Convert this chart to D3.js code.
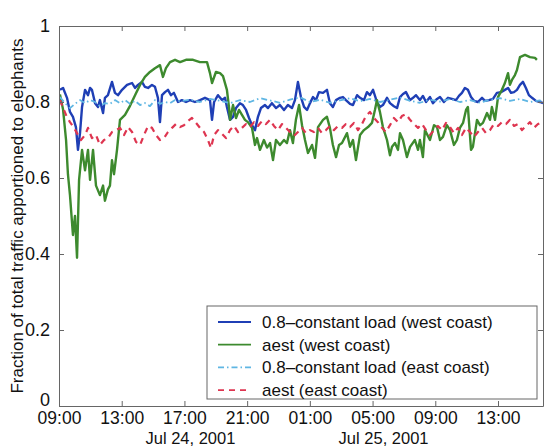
<!DOCTYPE html>
<html>
<head>
<meta charset="utf-8">
<script src="https://cdn.jsdelivr.net/npm/d3@7"></script>
<style>
  body { margin: 0; background: #fff; }
  text { font-family: "Liberation Sans", Arial, sans-serif; fill: #111; }
</style>
</head>
<body>
<svg id="chart" width="545" height="448"></svg>
<script>
(function(){

	// hours after Jul 24 2001 09:00, fraction
	var westConst = [[0.06,0.832],[0.26,0.837],[0.51,0.811],[0.70,0.774],[0.89,0.761],[1.08,0.734],[1.21,0.674],[1.34,0.718],[1.47,0.787],[1.66,0.832],[1.85,0.818],[1.98,0.837],[2.10,0.832],[2.30,0.797],[2.49,0.787],[2.61,0.805],[2.81,0.771],[2.93,0.811],[3.12,0.818],[3.38,0.853],[3.57,0.824],[3.76,0.818],[4.02,0.832],[4.34,0.845],[4.66,0.850],[4.85,0.837],[5.04,0.845],[5.29,0.853],[5.48,0.840],[5.68,0.837],[5.93,0.845],[6.12,0.840],[6.31,0.811],[6.44,0.747],[6.57,0.818],[6.76,0.826],[6.95,0.832],[7.14,0.818],[7.33,0.824],[7.59,0.800],[7.84,0.805],[8.10,0.800],[8.35,0.805],[8.67,0.800],[8.99,0.805],[9.31,0.811],[9.63,0.805],[9.76,0.753],[9.89,0.800],[10.14,0.818],[10.40,0.805],[10.59,0.811],[10.71,0.787],[10.91,0.753],[11.10,0.761],[11.29,0.784],[11.54,0.797],[11.73,0.792],[11.93,0.779],[12.12,0.758],[12.31,0.739],[12.50,0.726],[12.69,0.761],[12.88,0.784],[13.14,0.792],[13.33,0.784],[13.58,0.797],[13.84,0.784],[14.09,0.792],[14.35,0.779],[14.60,0.792],[14.86,0.784],[15.05,0.805],[15.24,0.853],[15.43,0.813],[15.63,0.787],[15.82,0.779],[16.01,0.797],[16.20,0.813],[16.39,0.805],[16.58,0.826],[16.84,0.824],[17.09,0.832],[17.28,0.797],[17.47,0.787],[17.67,0.805],[17.92,0.811],[18.11,0.813],[18.30,0.805],[18.56,0.795],[18.75,0.792],[19.01,0.818],[19.20,0.811],[19.45,0.805],[19.64,0.826],[19.83,0.818],[20.03,0.832],[20.28,0.800],[20.47,0.787],[20.66,0.792],[20.92,0.811],[21.11,0.797],[21.36,0.789],[21.56,0.784],[21.75,0.813],[21.94,0.821],[22.13,0.826],[22.39,0.805],[22.58,0.811],[22.77,0.818],[23.02,0.805],[23.21,0.816],[23.41,0.800],[23.66,0.813],[23.85,0.797],[24.11,0.808],[24.30,0.813],[24.55,0.800],[24.81,0.811],[25.06,0.808],[25.32,0.805],[25.51,0.816],[25.70,0.824],[25.89,0.837],[26.08,0.832],[26.28,0.813],[26.47,0.803],[26.72,0.800],[26.98,0.811],[27.17,0.803],[27.42,0.805],[27.68,0.808],[27.93,0.824],[28.19,0.826],[28.44,0.832],[28.64,0.837],[28.83,0.824],[29.02,0.826],[29.21,0.832],[29.40,0.845],[29.59,0.853],[29.78,0.837],[29.97,0.818],[30.17,0.811],[30.42,0.803],[30.68,0.800],[30.87,0.797]];

	var westAest = [[0.06,0.820],[0.26,0.780],[0.45,0.700],[0.57,0.610],[0.70,0.555],[0.89,0.450],[1.02,0.500],[1.15,0.390],[1.28,0.595],[1.47,0.674],[1.66,0.620],[1.85,0.674],[1.98,0.595],[2.17,0.674],[2.36,0.580],[2.61,0.555],[2.81,0.580],[2.93,0.540],[3.12,0.570],[3.25,0.580],[3.38,0.647],[3.51,0.610],[3.70,0.674],[3.89,0.753],[4.21,0.766],[4.53,0.790],[4.85,0.818],[5.17,0.845],[5.48,0.866],[5.80,0.879],[6.12,0.889],[6.44,0.897],[6.63,0.866],[6.82,0.889],[7.08,0.905],[7.40,0.911],[7.72,0.905],[8.10,0.911],[8.55,0.911],[8.99,0.905],[9.44,0.905],[9.63,0.876],[9.76,0.850],[10.01,0.879],[10.27,0.876],[10.46,0.868],[10.71,0.832],[10.84,0.787],[10.91,0.753],[11.10,0.792],[11.29,0.758],[11.48,0.779],[11.67,0.766],[11.86,0.753],[12.05,0.747],[12.31,0.732],[12.50,0.687],[12.63,0.705],[12.82,0.674],[13.07,0.700],[13.27,0.680],[13.46,0.692],[13.65,0.647],[13.84,0.700],[14.09,0.687],[14.35,0.700],[14.54,0.692],[14.73,0.726],[14.92,0.692],[15.11,0.753],[15.31,0.792],[15.50,0.739],[15.69,0.700],[15.88,0.666],[16.14,0.687],[16.33,0.653],[16.52,0.734],[16.84,0.753],[17.09,0.761],[17.28,0.732],[17.47,0.687],[17.67,0.655],[17.86,0.687],[18.05,0.692],[18.37,0.718],[18.56,0.682],[18.75,0.700],[18.94,0.647],[19.20,0.713],[19.45,0.726],[19.71,0.734],[19.96,0.745],[20.15,0.779],[20.28,0.805],[20.47,0.774],[20.66,0.734],[20.92,0.700],[21.11,0.660],[21.24,0.682],[21.43,0.692],[21.62,0.674],[21.75,0.718],[21.94,0.700],[22.19,0.655],[22.39,0.682],[22.70,0.700],[22.90,0.674],[23.02,0.700],[23.21,0.655],[23.34,0.726],[23.66,0.700],[23.92,0.739],[24.11,0.734],[24.30,0.700],[24.49,0.708],[24.74,0.739],[24.94,0.726],[25.19,0.687],[25.38,0.700],[25.57,0.732],[25.77,0.745],[25.96,0.779],[26.08,0.787],[26.28,0.674],[26.40,0.682],[26.66,0.753],[26.85,0.739],[27.04,0.745],[27.30,0.771],[27.49,0.753],[27.61,0.787],[27.81,0.753],[28.00,0.813],[28.25,0.832],[28.44,0.850],[28.64,0.876],[28.76,0.845],[28.89,0.858],[29.08,0.871],[29.21,0.884],[29.40,0.918],[29.72,0.924],[30.04,0.918],[30.36,0.916],[30.48,0.911]];

	var eastConst = [[0.06,0.813],[0.38,0.797],[0.70,0.784],[1.02,0.795],[1.34,0.805],[1.66,0.797],[1.98,0.805],[2.30,0.800],[2.61,0.789],[2.93,0.797],[3.25,0.795],[3.57,0.805],[3.89,0.797],[4.21,0.805],[4.53,0.795],[4.85,0.803],[5.17,0.792],[5.48,0.797],[5.80,0.789],[6.12,0.805],[6.44,0.795],[6.76,0.800],[7.08,0.797],[7.40,0.805],[7.72,0.802],[8.35,0.806],[8.99,0.800],[9.63,0.808],[10.27,0.803],[10.91,0.797],[11.54,0.805],[12.18,0.800],[12.82,0.810],[13.46,0.804],[14.09,0.798],[14.73,0.806],[15.37,0.812],[16.01,0.800],[16.65,0.806],[17.28,0.798],[17.92,0.804],[18.56,0.810],[19.20,0.802],[19.83,0.808],[20.47,0.800],[21.11,0.806],[21.75,0.812],[22.39,0.803],[23.02,0.798],[23.66,0.806],[24.30,0.801],[24.94,0.808],[25.57,0.800],[26.21,0.805],[26.85,0.798],[27.49,0.806],[28.12,0.810],[28.76,0.803],[29.40,0.808],[30.04,0.800],[30.68,0.804],[30.87,0.800]];

	var eastAest = [[0.06,0.805],[0.26,0.784],[0.45,0.766],[0.70,0.747],[0.96,0.732],[1.21,0.713],[1.40,0.700],[1.66,0.713],[1.85,0.732],[2.10,0.705],[2.36,0.713],[2.61,0.687],[2.87,0.700],[3.12,0.705],[3.38,0.721],[3.64,0.726],[3.89,0.732],[4.15,0.713],[4.40,0.734],[4.66,0.721],[4.91,0.695],[5.17,0.687],[5.42,0.713],[5.68,0.737],[5.93,0.732],[6.19,0.713],[6.44,0.700],[6.70,0.705],[6.95,0.721],[7.21,0.732],[7.46,0.742],[7.72,0.734],[7.97,0.739],[8.23,0.750],[8.48,0.758],[8.74,0.745],[8.99,0.732],[9.25,0.721],[9.50,0.700],[9.69,0.679],[9.89,0.713],[10.14,0.726],[10.40,0.716],[10.65,0.705],[10.91,0.726],[11.16,0.737],[11.42,0.721],[11.67,0.732],[11.93,0.742],[12.18,0.734],[12.44,0.747],[12.69,0.737],[12.95,0.750],[13.20,0.742],[13.46,0.753],[13.71,0.737],[13.97,0.726],[14.22,0.742],[14.48,0.732],[14.73,0.721],[14.99,0.711],[15.24,0.721],[15.50,0.732],[15.75,0.718],[16.01,0.726],[16.26,0.721],[16.52,0.732],[16.77,0.718],[17.03,0.726],[17.28,0.737],[17.54,0.726],[17.79,0.737],[18.05,0.732],[18.30,0.742],[18.56,0.734],[18.81,0.745],[19.07,0.726],[19.32,0.742],[19.58,0.763],[19.83,0.774],[20.09,0.758],[20.34,0.747],[20.60,0.732],[20.85,0.721],[21.11,0.739],[21.36,0.758],[21.62,0.747],[21.87,0.763],[22.13,0.768],[22.39,0.753],[22.64,0.742],[22.90,0.732],[23.15,0.742],[23.41,0.726],[23.66,0.713],[23.92,0.726],[24.17,0.737],[24.43,0.726],[24.68,0.745],[24.94,0.734],[25.19,0.718],[25.45,0.732],[25.70,0.713],[25.96,0.732],[26.21,0.721],[26.47,0.708],[26.72,0.721],[26.98,0.732],[27.23,0.718],[27.49,0.726],[27.74,0.742],[28.00,0.737],[28.25,0.747],[28.51,0.742],[28.76,0.753],[29.02,0.737],[29.27,0.742],[29.53,0.726],[29.78,0.737],[30.04,0.747],[30.29,0.732],[30.55,0.742],[30.81,0.747]];

	var seriesNames = ["0.8\u2013constant load (west coast)", "aest (west coast)", "0.8\u2013constant load (east coast)", "aest (east coast)"];
	var yTicks = [0, 0.2, 0.4, 0.6, 0.8, 1];
	var dateLabels = ["Jul 24, 2001", "Jul 25, 2001"];

	//Style config
	var colors = ["#1f3fb5", "#3d8a2e", "#5fb6e3", "#de3550"];
	var dashes = [null, null, "6,3,1.5,3", "6,5"];
	var widths = [2.4, 2.4, 1.8, 2.2];

	var margin = {left: 59, top: 26, right: 2, bottom: 42};
	var width = 545 - margin.left - margin.right;
	var height = 448 - margin.top - margin.bottom;

	var start = new Date(2001, 6, 24, 9, 0);
	function toDate(h){ return new Date(start.getTime() + h * 3600000); }

	var x = d3.scaleTime()
		.domain([start, toDate(30.87)])
		.range([0, width]);
	var y = d3.scaleLinear().domain([0, 1]).range([height, 0]);

	var xTickVals = d3.range(0, 30, 4).map(toDate);

	var svg = d3.select("#chart");
	var g = svg.append("g").attr("transform", "translate(" + margin.left + "," + margin.top + ")");

	//data lines
	var line = d3.line()
		.x(function(d){ return x(toDate(d[0])); })
		.y(function(d){ return y(d[1]); });

	var allSeries = [westConst, westAest, eastConst, eastAest];
	g.append("defs").append("clipPath").attr("id", "clip")
		.append("rect").attr("width", width).attr("height", height);
	g.selectAll(".series")
		.data(allSeries)
		.enter()
		.append("path")
		.attr("class", "series")
		.attr("clip-path", "url(#clip)")
		.attr("d", line)
		.attr("fill", "none")
		.attr("stroke", function(d, i){ return colors[i]; })
		.attr("stroke-width", function(d, i){ return widths[i]; })
		.attr("stroke-dasharray", function(d, i){ return dashes[i]; })
		.attr("stroke-linejoin", "round");

	//axes, MATLAB style box with inward ticks
	var fmtY = function(d){ return (d === 0 || d === 1) ? d : d.toFixed(1); };
	var xAxis = d3.axisBottom(x).tickValues(xTickVals).tickFormat(d3.timeFormat("%H:%M")).tickSizeInner(-5).tickSizeOuter(0).tickPadding(6);
	var xTop = d3.axisTop(x).tickValues(xTickVals).tickFormat("").tickSizeInner(-5).tickSizeOuter(0);
	var yAxis = d3.axisLeft(y).tickValues(yTicks).tickFormat(fmtY).tickSizeInner(-5).tickSizeOuter(0).tickPadding(9);
	var yRight = d3.axisRight(y).tickValues(yTicks).tickFormat("").tickSizeInner(-5).tickSizeOuter(0);

	var gx = g.append("g").attr("transform", "translate(0," + height + ")").call(xAxis);
	g.append("g").call(xTop);
	var gy = g.append("g").call(yAxis);
	g.append("g").attr("transform", "translate(" + width + ",0)").call(yRight);

	g.selectAll(".domain").attr("stroke", "#666");
	g.selectAll(".tick line").attr("stroke", "#666");
	gy.selectAll(".tick text").attr("font-size", "18px");
	gx.selectAll(".tick text").attr("font-size", "17.5px");
	g.selectAll(".tick text").attr("fill", "#111")
		.attr("font-family", "Liberation Sans, Arial, sans-serif");
	//the "0" label sits a little above the axis corner
	gy.selectAll(".tick text").filter(function(d){ return d === 0; }).attr("dy", "-0.05em");

	//date labels under the 17:00 and 05:00 ticks
	g.selectAll(".dateLabel")
		.data(dateLabels)
		.enter()
		.append("text")
		.attr("x", function(d, i){ return x(xTickVals[i === 0 ? 2 : 5]) + (i === 0 ? 6 : 11); })
		.attr("y", height + 38)
		.attr("text-anchor", "middle")
		.attr("font-size", "16.5px")
		.text(function(d){ return d; });

	//y title
	svg.append("text")
		.attr("transform", "translate(23," + (margin.top + height / 2) + ") rotate(-90)")
		.attr("text-anchor", "middle")
		.attr("font-size", "17px")
		.text("Fraction of total traffic apportioned to elephants");

	//legend
	var legend = svg.append("g").attr("transform", "translate(207,306)");
	legend.append("rect")
		.attr("width", 330).attr("height", 93)
		.attr("fill", "#fff").attr("stroke", "#666").attr("stroke-width", 1);
	var item = legend.selectAll(".legendItem")
		.data(seriesNames)
		.enter()
		.append("g")
		.attr("transform", function(d, i){ return "translate(0," + (16 + i * 22.7) + ")"; });
	item.append("line")
		.attr("x1", 11).attr("x2", 44)
		.attr("stroke", function(d, i){ return colors[i]; })
		.attr("stroke-width", 1.8)
		.attr("stroke-dasharray", function(d, i){ return dashes[i]; });
	item.append("text")
		.attr("x", 55).attr("y", 6)
		.attr("font-size", "17px")
		.text(function(d){ return d; });

})();
</script>
</body>
</html>
